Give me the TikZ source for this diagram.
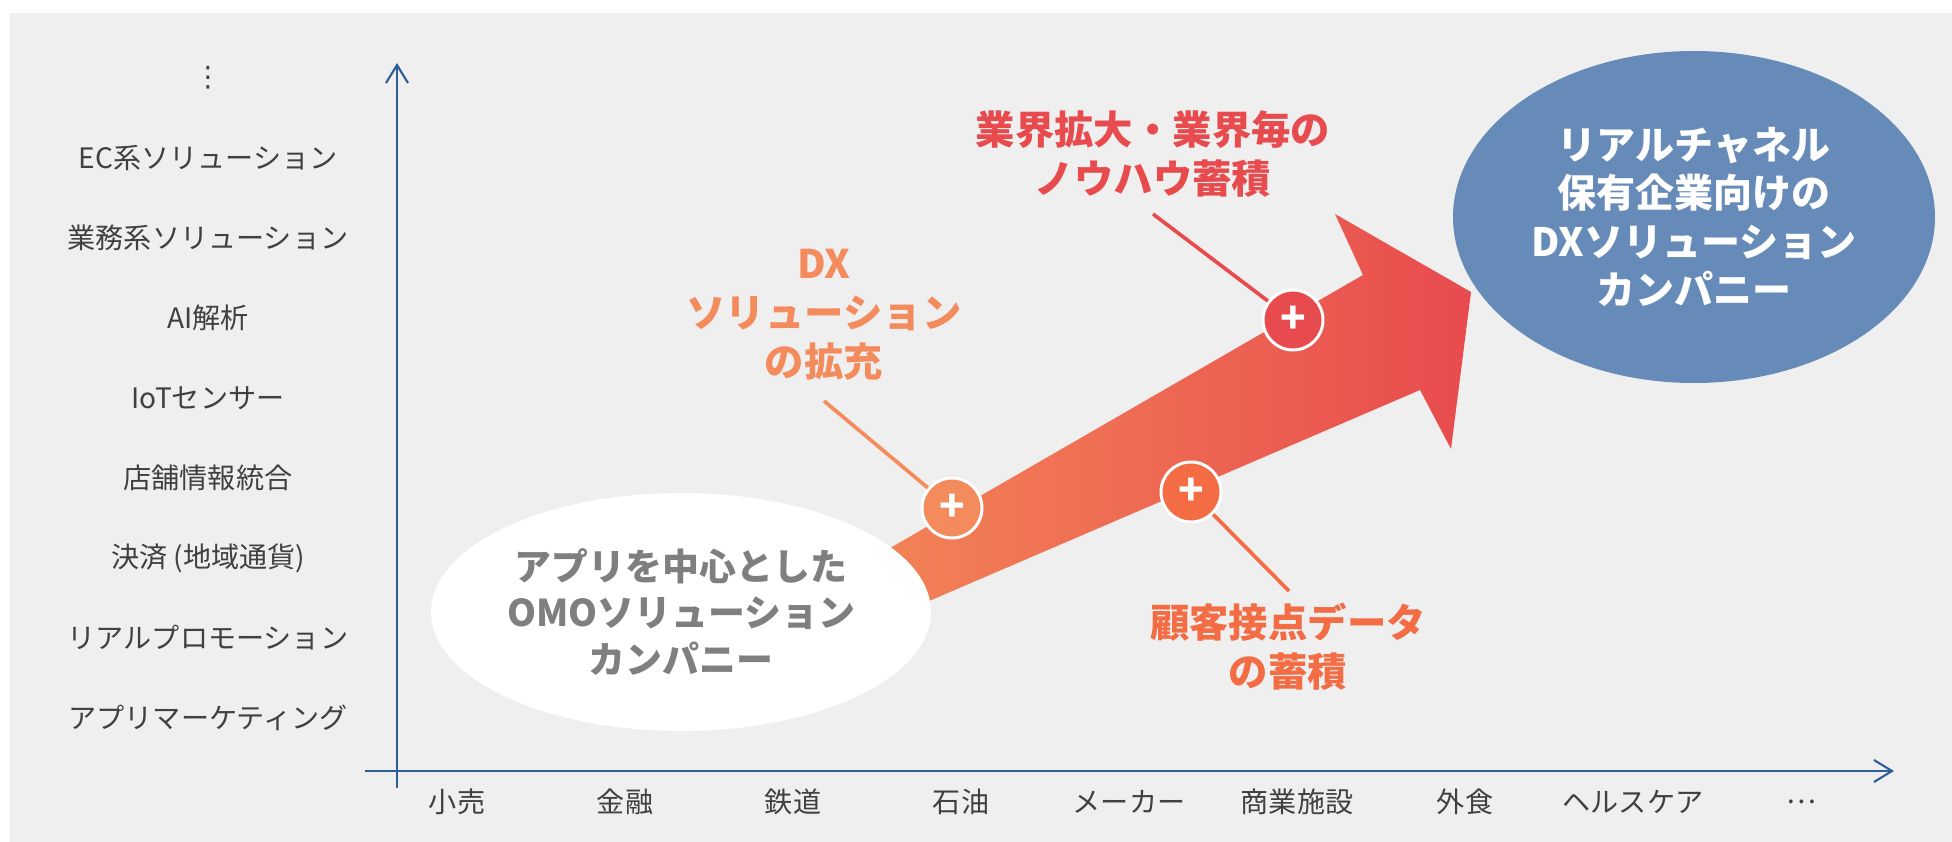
\documentclass[tikz,border=0pt]{standalone}
\usepackage{fontspec}
\setmainfont{Noto Sans CJK JP}
\newfontfamily\symfont{DejaVu Sans}
\usetikzlibrary{arrows.meta}
\usetikzlibrary{shapes.geometric}

\definecolor{bggray}{HTML}{EFEFEF}
\definecolor{axisblue}{HTML}{2E5E9A}
\definecolor{labelgray}{HTML}{404040}
\definecolor{omogray}{HTML}{7F7F7F}
\definecolor{dxblue}{HTML}{678BB8}
\definecolor{dxorange}{HTML}{F38B5C}
\definecolor{knowred}{HTML}{E84B4E}
\definecolor{dataorange}{HTML}{F36C44}

\tikzset{
  axis/.style={axisblue, line width=0.6pt, -{Straight Barb[length=1.8mm,width=2.2mm]}},
  lab/.style={labelgray, font=\fontsize{8}{10}\selectfont},
  plusdot/.style={circle, draw=white, line width=0.85pt, minimum size=6mm, inner sep=0pt,
    text=white, font=\bfseries\fontsize{12}{12}\selectfont},
  leader/.style={line width=1.05pt},
  callout/.style={align=center, font=\bfseries\fontsize{11.2}{14}\selectfont},
}

\begin{document}
\begin{tikzpicture}[x=0.1mm, y=-0.1mm]
            \useasboundingbox (0,0) rectangle (1952,842);
            % background
            \fill[bggray] (10,13) rectangle (1952,842);

            % axis
            \coordinate (yo) at (397,788);
            \coordinate (ytop) at (397,63);
            \coordinate (xo) at (365,771);
            \coordinate (xend) at (1894,771);
            \draw[axis] (yo) -- (ytop);
            \draw[axis] (xo) -- (xend);

            % y-axis labels
            \node[lab, font=\symfont\fontsize{8}{10}\selectfont] (ydots) at (208,78) {⋮};
            \foreach \t [count=\i] in {EC系ソリューション,業務系ソリューション,AI解析,IoTセンサー,
                店舗情報統合,決済 (地域通貨),リアルプロモーション,アプリマーケティング}
                \node[lab] (y\i) at (208,78+80*\i) {\t};

            % x-axis labels
            \foreach \t [count=\i from 0] in {小売,金融,鉄道,石油,メーカー,商業施設,外食,ヘルスケア,…}
                \node[lab] (x\i) at (457+168*\i,802) {\t};

            % growth arrow
            \shade[left color=dxorange!95!orange, right color=knowred]
                (800,600) -- (1363,275) -- (1335,214) -- (1471,292) -- (1451,449) -- (1420,390) -- (850,635) -- cycle;

            % start and goal
            \node[ellipse, fill=white, minimum width=50mm, minimum height=23.8mm, inner sep=0pt,
                text=omogray, align=center, font=\bfseries\fontsize{10.5}{13.1}\selectfont]
                (omo) at (681,612) {アプリを中心とした\\OMOソリューション\\カンパニー};
            \node[ellipse, fill=dxblue, minimum width=48.2mm, minimum height=33.2mm, inner sep=0pt,
                text=white, align=center, font=\bfseries\fontsize{11.1}{13.7}\selectfont]
                (goal) at (1694,217) {リアルチャネル\\保有企業向けの\\DXソリューション\\カンパニー};

            % plus points
            \node[plusdot, fill=dxorange] (p1) at (952,508) {+};
            \node[plusdot, fill=knowred] (p2) at (1293,320) {+};
            \node[plusdot, fill=dataorange] (p3) at (1191,492) {+};

            % callouts
            \node[callout, text=dxorange] (dx) at (824,315) {DX\\ソリューション\\の拡充};
            \node[callout, text=knowred] (know) at (1153,154) {業界拡大・業界毎の\\ノウハウ蓄積};
            \node[callout, text=dataorange] (data) at (1288,647) {顧客接点データ\\の蓄積};
            \coordinate (l1) at (824,401);
            \coordinate (l2) at (1153,214);
            \coordinate (l3) at (1289,591);
            \draw[leader, dxorange] (l1) -- (p1);
            \draw[leader, knowred] (l2) -- (p2);
            \draw[leader, dataorange] (l3) -- (p3);
\end{tikzpicture}
\end{document}
